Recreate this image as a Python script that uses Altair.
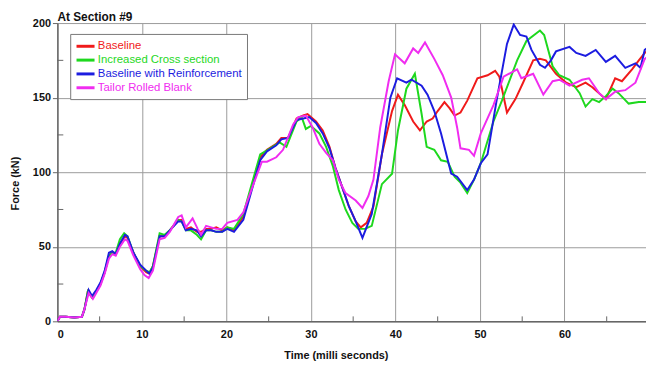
import altair as alt
import pandas as pd

series_names = ["Baseline", "Increased Cross section", "Baseline with Reinforcement", "Tailor Rolled Blank"]
series_colors = ["#f01a1a", "#1ed81e", "#1c1ce0", "#f02cf0"]

baseline_t = [0,0.3,1,2,2.9,3.2,3.6,4.1,4.6,5.1,5.6,6.1,6.5,6.9,7.4,8.0,8.3,9.0,9.8,10.5,10.9,11.3,12.1,12.7,13.3,14.3,14.7,15.2,15.8,16.5,17.0,17.6,18.2,18.8,19.5,20.1,20.9,22.0,22.8,24.0,24.8,25.9,26.5,27.3,28.3,29.1,29.6,30.6,31.4,32.2,32.9,33.7,34.5,35.3,35.9,36.6,37.4,38.4,39.6,40.3,41.1,42.1,42.9,43.7,44.4,45.0,45.8,46.4,47.0,47.7,48.5,49.7,50.9,51.8,52.3,53.2,54.2,55.1,56.3,57.1,57.8,59.0,60.2,61.4,62.5,63.3,64.5,64.9,66.0,66.8,68.0,68.8,69.5,70]
baseline_f = [0,3,3,2.5,3,8,20,16,20,25,33,44,46,45,52,57,56,46,37,33,32,37,57,57,61,68,68,62,63,60,60,62,62,63,61,63,61,70,86,110,115,119,123,123,136,138,139,134,128,117,103,90,77,67,63,66,77,112,141,152,145,134,128,134,136,141,147,143,138,140,148,163,165,168,164,140,149,160,175,176,175,166,160,157,160,157,151,149,163,161,169,175,180,182]

increased_t = [0,0.3,1,2,2.9,3.2,3.6,4.1,4.6,5.1,5.6,6.1,6.5,6.9,7.4,7.9,8.3,9.0,9.8,10.5,10.9,11.3,12.1,12.7,13.3,14.3,14.7,15.2,15.8,16.5,17.0,17.6,18.2,18.8,19.5,20.1,20.9,22.0,22.8,24.0,24.9,26.3,27.1,28.3,28.9,29.4,30.0,31.0,31.8,32.6,33.3,34.1,34.9,35.6,36.4,37.2,38.4,39.6,40.3,41.3,42.3,43.1,43.7,44.6,45.4,46.2,47.0,47.7,48.5,49.3,50.1,51.6,52.6,54.4,55.5,57.1,57.6,58.6,59.4,60.6,61.8,62.5,63.3,64.1,64.9,65.7,66.4,67.6,68.8,70]
increased_f = [0,3,3,2.5,3,8,20,16,20,25,33,44,46,46,55,59,57,46,37,34,33,37,59,58,61,68,67,61,61,58,55,61,61,60,60,63,62,72,88,112,115,120,117,134,137,129,131,126,117,104,88,75,66,62,62,64,92,99,128,156,166,139,117,115,108,107,97,93,86,95,106,134,148,175,188,195,192,171,165,162,153,144,149,147,151,156,153,146,147,147]

reinforced_t = [0,0.3,1,2,2.9,3.2,3.7,4.1,4.6,5.1,5.6,6.1,6.5,6.9,7.4,8.0,8.3,9.0,9.8,10.5,10.9,11.3,12.1,12.7,13.3,14.3,14.7,15.2,15.8,16.5,17.0,17.6,18.2,18.8,19.5,20.1,20.9,22.0,22.8,24.0,24.8,25.9,26.5,27.3,28.3,29.1,29.8,30.6,31.4,32.2,32.9,33.7,34.5,35.3,36.1,37.2,38.4,39.4,40.2,41.3,41.9,43.1,43.8,44.6,45.4,46.2,46.6,47.3,48.5,49.3,50.1,50.9,52.0,53.2,54.0,54.75,55.5,56.1,57.1,57.7,58.4,59.0,60.6,61.4,62.5,63.7,64.9,66.0,67.2,68.4,69.0,69.5,70]
reinforced_f = [0,3,3,2.5,3,8,21,17,21,26,34,46,47,45,52,58,57,46,38,34,32,36,57,57,61,67,67,61,62,61,57,61,61,60,60,62,60,68,84,108,114,118,122,123,135,136,137,133,126,116,103,90,77,67,56,72,112,150,163,160,162,158,152,141,126,108,99,97,88,95,106,112,149,186,199,192,191,182,172,170,175,181,184,180,178,182,174,178,170,173,170,182,184]

tailor_t = [0,0.3,1,2,2.9,3.2,3.7,4.2,4.6,5.1,5.6,6.1,6.5,6.9,7.4,8.0,8.3,9.0,9.8,10.3,10.8,11.3,12.1,12.7,13.3,14.3,14.7,15.2,16.0,16.6,17.0,17.6,18.2,18.8,19.5,20.1,21.3,22.0,23.2,24.2,24.8,25.9,26.7,27.9,28.5,29.4,30.2,31.0,31.8,32.6,33.3,34.1,35.3,36.1,36.8,37.4,38.2,39.2,39.95,41.1,42.1,42.7,43.5,44.6,45.6,46.6,47.3,47.7,48.7,49.3,50.1,51.6,52.8,54.4,54.9,56.3,57.5,58.6,59.4,60.6,62.1,62.9,64.1,64.9,66.0,67.2,68.4,69.5,70]
tailor_f = [0,3,3,2.5,3,8,19,15,19,24,32,42,45,44,50,55,54,44,35,31,29,34,55,56,60,70,71,63,69,62,58,64,63,62,62,66,68,73,92,107,107,110,115,132,137,138,130,119,113,108,95,86,81,76,84,95,130,161,179,173,183,180,187,176,165,150,130,116,115,111,126,145,164,169,163,166,152,161,162,158,162,163,153,149,154,155,160,176,178]

x_ticks = [0, 10, 20, 30, 40, 50, 60]
y_ticks = [0, 50, 100, 150, 200]
x_minor = [5, 15, 25, 35, 45, 55, 65]
y_minor = [25, 75, 125, 175]

rows = []
for name, ts, fs in zip(series_names,
                        [baseline_t, increased_t, reinforced_t, tailor_t],
                        [baseline_f, increased_f, reinforced_f, tailor_f]):
    for i, (t, f) in enumerate(zip(ts, fs)):
        rows.append({"series": name, "time": t, "force": f, "order": i})
df = pd.DataFrame(rows)

FONT = "Liberation Sans"
W, H = 596, 302
x_scale = alt.Scale(domain=[0, 69.65], nice=False, zero=False)
y_scale = alt.Scale(domain=[0, 200], nice=False)

lines = alt.Chart(df).mark_line(strokeWidth=2, clip=True).encode(
    x=alt.X("time:Q", scale=x_scale,
            axis=alt.Axis(values=x_ticks, grid=True, ticks=False, labelPadding=7,
                          title="Time (milli seconds)", titleX=282, titleY=29,
                          titleAnchor="middle", titleAlign="center")),
    y=alt.Y("force:Q", scale=y_scale,
            axis=alt.Axis(values=y_ticks, grid=True, tickSize=5, labelPadding=2,
                          title="Force (kN)", titleX=-37, titleY=162,
                          titleAlign="center")),
    color=alt.Color("series:N",
                    scale=alt.Scale(domain=series_names, range=series_colors),
                    sort=series_names,
                    legend=alt.Legend(orient="none", legendX=13, legendY=11, title=None,
                                      symbolType="M-1.6,0H1.6", symbolSize=130,
                                      symbolStrokeWidth=3, symbolFillColor="transparent",
                                      symbolOffset=3,
                                      labelFontSize=11.5, labelFont=FONT, labelOffset=5,
                                      labelColor=alt.ExprRef("scale('color', datum.value)"),
                                      strokeColor="#777777", fillColor="white",
                                      padding=5, rowPadding=0)),
    order="order:Q",
    detail="series:N",
)

xminor_df = pd.DataFrame({"v": x_minor})
yminor_df = pd.DataFrame({"v": y_minor})
xminor = alt.Chart(xminor_df).mark_rule(color="#666666", strokeWidth=1).encode(
    x=alt.X("v:Q", scale=x_scale), y=alt.value(H), y2=alt.value(H - 5))
yminor = alt.Chart(yminor_df).mark_rule(color="#666666", strokeWidth=1).encode(
    y=alt.Y("v:Q", scale=y_scale), x=alt.value(0), x2=alt.value(6))

chart = alt.layer(xminor, yminor, lines).properties(
    width=W, height=H,
    title=alt.TitleParams("At Section #9", anchor="start", fontSize=12, fontWeight="bold",
                          font=FONT, color="#111111", offset=4, frame="group", dy=11),
    autosize=alt.AutoSizeParams(type="none"),
    padding={"left": 50, "top": 13, "right": 0, "bottom": 45},
).configure_axis(
    labelFont=FONT, labelFontSize=11, labelFontWeight="bold", labelColor="#111111",
    titleFont=FONT, titleFontSize=11, titleFontWeight="bold", titleColor="#111111",
    gridColor="#9a9a9a", gridWidth=1, gridOpacity=1,
    domainColor="#666666", domainWidth=1.5, tickColor="#666666",
).configure_view(stroke=None)

chart.save("out.html", embed_options={"renderer": "svg", "actions": False})
